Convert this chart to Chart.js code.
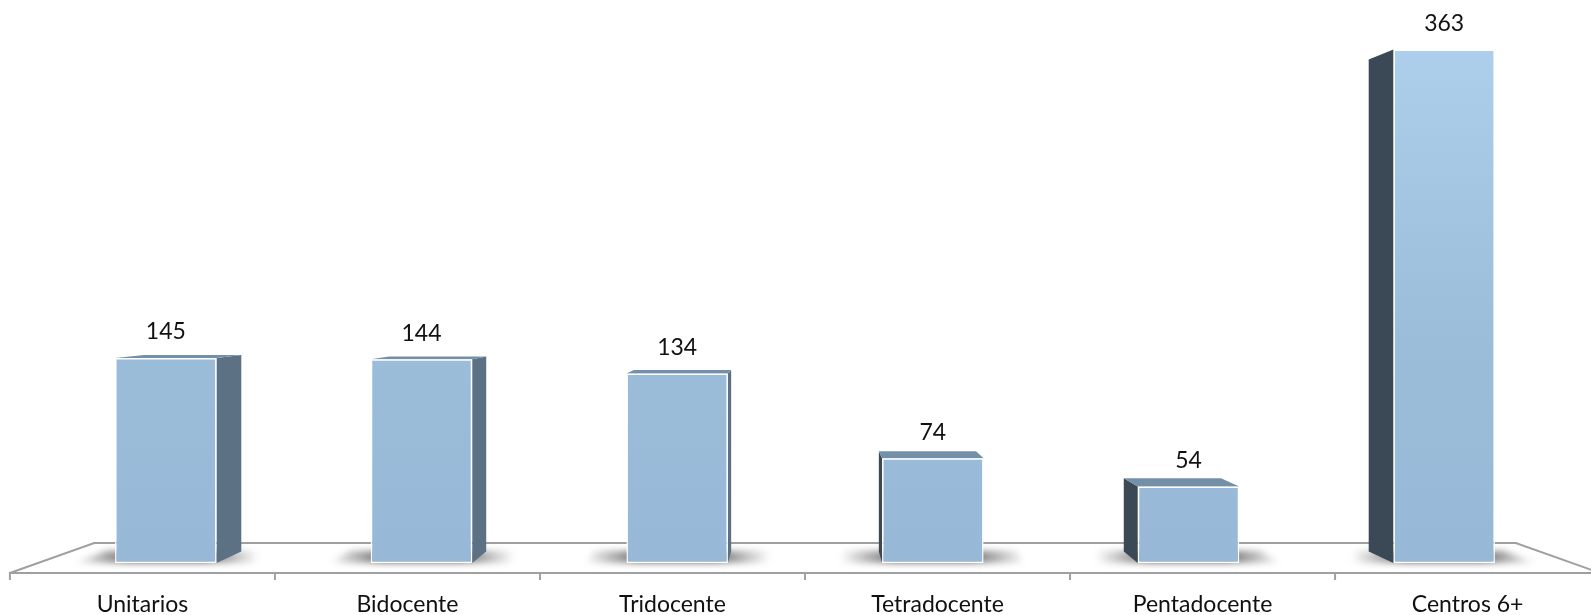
<!DOCTYPE html>
<html>
<head>
<meta charset="utf-8">
<script src="https://cdn.jsdelivr.net/npm/chart.js@4"></script>
<style>
  html, body { margin: 0; padding: 0; background: #fff; }
  #chart { display: block; }
</style>
</head>
<body>
<canvas id="chart" width="1591" height="615"></canvas>
<script>
// categories and values
const categories = ['Unitarios', 'Bidocente', 'Tridocente', 'Tetradocente', 'Pentadocente', 'Centros 6+'];
const centros = [145, 144, 134, 74, 54, 363];

const FONT = 'Lato, "DejaVu Sans", sans-serif';
const VP_Y = 290;        // vanishing point height (pixels)
const BAR_DEPTH = 0.042; // depth of each bar, as a fraction towards the vanishing point
const FLOOR_FRONT = -10; // front edge of the floor, pixels below the bar base
const FLOOR_BACK = 20;   // back edge of the floor, pixels above the bar base

/** projects point (x, y) towards the vanishing point by fraction t */
function project(vp, x, y, t) {
  return { x: x + (vp.x - x) * t, y: y + (vp.y - y) * t };
}

function polygon(ctx, pts, fill) {
  ctx.beginPath();
  ctx.moveTo(pts[0].x, pts[0].y);
  for (let i = 1; i < pts.length; i++) ctx.lineTo(pts[i].x, pts[i].y);
  ctx.closePath();
  ctx.fillStyle = fill;
  ctx.fill();
}

const box3d = {
  id: 'box3d',
  beforeDatasetsDraw(chart) {
    const { ctx, chartArea: area } = chart;
    const vp = { x: (area.left + area.right) / 2, y: area.top + VP_Y };
    const base = area.bottom;
    const tFront = FLOOR_FRONT / (base - vp.y);
    const tBack = FLOOR_BACK / (base - vp.y);

    // floor outline
    const fl = project(vp, area.left, base, tFront);
    const fr = project(vp, area.right, base, tFront);
    const bl = project(vp, area.left, base, tBack);
    const br = project(vp, area.right, base, tBack);
    ctx.save();
    ctx.strokeStyle = '#a0a0a0';
    ctx.lineWidth = 2;
    ctx.beginPath();
    ctx.moveTo(fl.x, fl.y);
    ctx.lineTo(bl.x, bl.y);
    ctx.lineTo(br.x, br.y);
    ctx.lineTo(fr.x, fr.y);
    ctx.moveTo(fl.x - 1, fl.y);
    ctx.lineTo(fr.x, fr.y);
    // tick marks between categories
    const xs = chart.scales.x;
    const step = (area.right - area.left) / categories.length;
    for (let i = 0; i <= categories.length; i++) {
      const p = project(vp, area.left + i * step, base, tFront);
      ctx.moveTo(p.x, p.y);
      ctx.lineTo(p.x, p.y + 7);
    }
    ctx.stroke();
    ctx.restore();

    const meta = chart.getDatasetMeta(0);
    // soft shadows on the floor
    meta.data.forEach((bar) => {
      const L = bar.x - bar.width / 2;
      const R = bar.x + bar.width / 2;
      const w = 42;
      const a = project(vp, L - w, base, 0);
      const b = project(vp, R + w, base, 0);
      const c = project(vp, R + w, base, 0.045);
      const d = project(vp, L - w, base, 0.045);
      const g = ctx.createLinearGradient(a.x, 0, b.x, 0);
      g.addColorStop(0, 'rgba(60,60,60,0)');
      g.addColorStop(0.3, 'rgba(60,60,60,0.75)');
      g.addColorStop(0.7, 'rgba(60,60,60,0.75)');
      g.addColorStop(1, 'rgba(60,60,60,0)');
      ctx.save();
      ctx.filter = 'blur(3px)';
      polygon(ctx, [a, b, c, d], g);
      ctx.restore();
    });

    // side and top faces
    meta.data.forEach((bar) => {
      const L = bar.x - bar.width / 2;
      const R = bar.x + bar.width / 2;
      const top = bar.y;
      const bottom = bar.base;
      const edge = bar.x < vp.x ? R : L;
      const side = [
        { x: edge, y: top },
        project(vp, edge, top, BAR_DEPTH),
        project(vp, edge, bottom, BAR_DEPTH),
        { x: edge, y: bottom }
      ];
      polygon(ctx, side, bar.x < vp.x ? '#5d7185' : '#3a4955');
      if (top > vp.y) {
        const cap = [
          { x: L, y: top },
          { x: R, y: top },
          project(vp, R, top, BAR_DEPTH),
          project(vp, L, top, BAR_DEPTH)
        ];
        polygon(ctx, cap, '#7390a8');
      }
    });
  },
  afterDatasetsDraw(chart) {
    const { ctx, chartArea: area } = chart;
    const vp = { x: (area.left + area.right) / 2, y: area.top + VP_Y };
    const base = area.bottom;
    const tFront = FLOOR_FRONT / (base - vp.y);
    const meta = chart.getDatasetMeta(0);
    ctx.save();
    ctx.fillStyle = '#111';
    ctx.font = '23px ' + FONT;
    ctx.textAlign = 'center';
    ctx.textBaseline = 'alphabetic';
    meta.data.forEach((bar, i) => {
      ctx.fillText(String(centros[i]), bar.x, bar.y - 18.5);
      const p = project(vp, bar.x, base, tFront);
      ctx.fillText(categories[i], p.x, 611.5);
    });
    ctx.restore();
  }
};

function frontFill(context) {
  const area = context.chart.chartArea;
  if (!area) return '#97b9d7';
  const g = context.chart.ctx.createLinearGradient(0, area.top, 0, area.bottom);
  g.addColorStop(0, '#b0d2ef');
  g.addColorStop(0.6, '#9bbdda');
  g.addColorStop(1, '#97b9d7');
  return g;
}

new Chart(document.getElementById('chart'), {
  type: 'bar',
  data: {
    labels: categories,
    datasets: [{
      data: centros,
      backgroundColor: frontFill,
      borderColor: '#ffffff',
      borderWidth: 1.5,
      borderSkipped: false,
      barPercentage: 0.397,
      categoryPercentage: 1
    }]
  },
  options: {
    responsive: false,
    animation: false,
    layout: { padding: { left: 38, right: 19, top: 0, bottom: 52 } },
    plugins: { legend: { display: false }, tooltip: { enabled: false } },
    scales: {
      x: { display: false },
      y: { display: false, min: 0, max: 398 }
    }
  },
  plugins: [box3d]
});
</script>
</body>
</html>
